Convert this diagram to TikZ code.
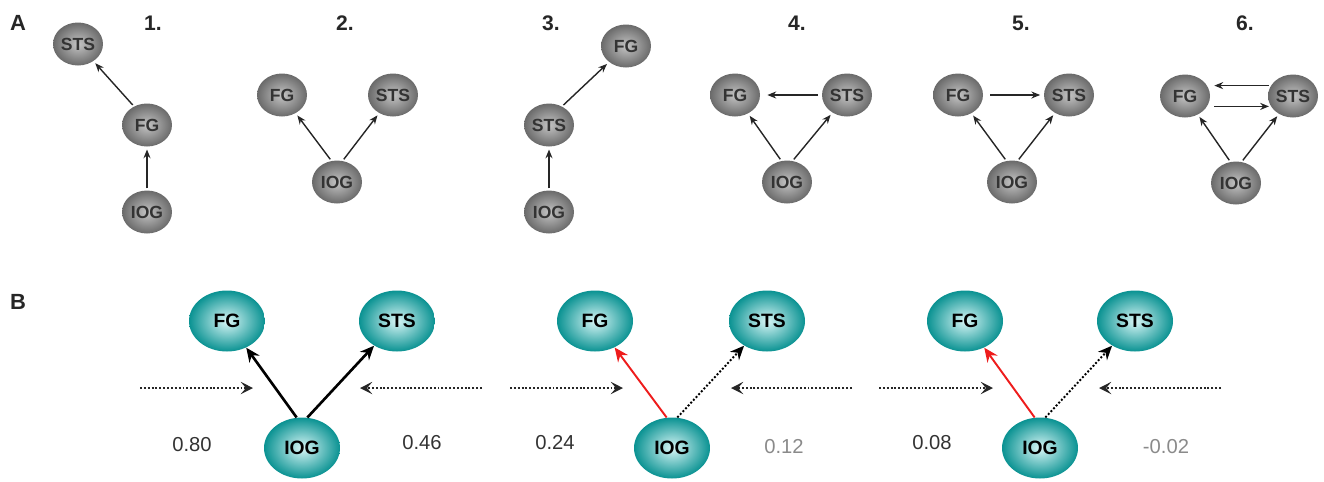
\documentclass[tikz,border=0pt]{standalone}
\usepackage{fontspec}
\setmainfont{Liberation Sans}
\usepackage{tikz}
\usetikzlibrary{positioning,arrows.meta,shapes.geometric}
\definecolor{nodegray}{HTML}{6A6A6A}
\definecolor{nodegraylight}{HTML}{C4C4C4}
\definecolor{nodeteal}{HTML}{0A9292}
\definecolor{nodetealight}{HTML}{D8F6F6}
\definecolor{valdark}{HTML}{333333}
\definecolor{valfaint}{HTML}{8A8A8A}
\definecolor{linkred}{HTML}{EE1C1C}
\tikzset{
    panellabel/.style={font=\fontsize{12.5}{14}\selectfont\bfseries,text=black!85},
    steplabel/.style={font=\fontsize{12}{14}\selectfont\bfseries,text=black!85},
    graynode/.style={ellipse,inner sep=0pt,minimum width=1.0cm,minimum height=0.86cm,
        inner color=nodegraylight,outer color=nodegray,text=black!80,
        font=\fontsize{10}{11}\selectfont\bfseries},
    tealnode/.style={ellipse,inner sep=0pt,minimum width=1.52cm,minimum height=1.22cm,
        inner color=nodetealight,outer color=nodeteal,text=black,
        font=\fontsize{11}{12}\selectfont\bfseries},
    corrval/.style={font=\fontsize{11.5}{13}\selectfont,text=valdark},
    corrfaint/.style={font=\fontsize{11.5}{13}\selectfont,text=valfaint},
    linkA/.style={-{Stealth[length=5pt,width=4pt]},line width=0.8pt,black!85,shorten >=1.5pt,shorten <=1pt},
    linkB/.style={-{Stealth[length=8pt,width=7pt]},line width=1.5pt,black},
    linkBred/.style={-{Stealth[length=8pt,width=7pt]},line width=1.1pt,linkred},
    linkBdot/.style={-{Stealth[length=8pt,width=7pt]},line width=1.1pt,black,dash pattern=on 1.1pt off 1.1pt},
    inflow/.style={-{Stealth[length=7pt,width=7pt,inset=3pt]},line width=1.1pt,black!85,dash pattern=on 1.1pt off 1.1pt}
}
\begin{document}
\begin{tikzpicture}[x=0.02cm,y=-0.02cm]
\useasboundingbox (0,0) rectangle (1324,481);
% panel A
\node[panellabel] (labA) at (18,23) {A};
\node[steplabel] (st1) at (153,23) {1.};
\node[steplabel] (st2) at (345,23) {2.};
\node[steplabel] (st3) at (551,23) {3.};
\node[steplabel] (st4) at (797,23) {4.};
\node[steplabel] (st5) at (1021,23) {5.};
\node[steplabel] (st6) at (1245,23) {6.};
% 1.
\node[graynode] (stsA1) at (78,44) {STS};
\node[graynode] (fgA1) at (147,125) {FG};
\node[graynode] (iogA1) at (147,212) {IOG};
\draw[linkA] (iogA1) -- (fgA1);
\draw[linkA] (fgA1.125) -- (stsA1);
% 2.
\node[graynode] (fgA2) at (282,95) {FG};
\node[graynode] (stsA2) at (393,95) {STS};
\node[graynode] (iogA2) at (337,182) {IOG};
\draw[linkA] (iogA2.105) -- (fgA2);
\draw[linkA] (iogA2.75) -- (stsA2);
% 3.
\node[graynode] (fgA3) at (626,46) {FG};
\node[graynode] (stsA3) at (549,125) {STS};
\node[graynode] (iogA3) at (549,212) {IOG};
\draw[linkA] (iogA3) -- (stsA3);
\draw[linkA] (stsA3.55) -- (fgA3);
% 4.
\node[graynode] (fgA4) at (735,95) {FG};
\node[graynode] (stsA4) at (847,95) {STS};
\node[graynode] (iogA4) at (787,182) {IOG};
\draw[linkA] (iogA4.105) -- (fgA4);
\draw[linkA] (iogA4.75) -- (stsA4);
\draw[linkA,line width=0.9pt,shorten >=4pt,shorten <=2pt] (stsA4) -- (fgA4);
% 5.
\node[graynode] (fgA5) at (958,95) {FG};
\node[graynode] (stsA5) at (1069,95) {STS};
\node[graynode] (iogA5) at (1012,182) {IOG};
\draw[linkA] (iogA5.105) -- (fgA5);
\draw[linkA] (iogA5.75) -- (stsA5);
\draw[linkA,line width=0.9pt,shorten >=2pt,shorten <=4pt] (fgA5) -- (stsA5);
% 6.
\node[graynode] (fgA6) at (1185,96) {FG};
\node[graynode] (stsA6) at (1293,96) {STS};
\node[graynode] (iogA6) at (1236,183) {IOG};
\draw[linkA] (iogA6.105) -- (fgA6);
\draw[linkA] (iogA6.75) -- (stsA6);
\draw[linkA,line width=1pt,shorten >=4pt,shorten <=1pt] (stsA6.155) -- (fgA6.25);
\draw[linkA,line width=1pt,shorten >=1pt,shorten <=4pt] (fgA6.-25) -- (stsA6.205);
% panel B
\node[panellabel] (labB) at (18,302) {B};
% first
\node[tealnode] (fgB1) at (227,321) {FG};
\node[tealnode] (stsB1) at (397,321) {STS};
\node[tealnode] (iogB1) at (302,448) {IOG};
\draw[linkB] (iogB1.100) -- (fgB1);
\draw[linkB] (iogB1.80) -- (stsB1);
\coordinate (inL1) at (140,388);
\coordinate (outL1) at (253,388);
\coordinate (inR1) at (482,388);
\coordinate (outR1) at (360,388);
\draw[inflow] (inL1) -- (outL1);
\draw[inflow] (inR1) -- (outR1);
\node[corrval] (valL1) at (192,445) {0.80};
\node[corrval] (valR1) at (422,443) {0.46};
% second
\node[tealnode] (fgB2) at (595,321) {FG};
\node[tealnode] (stsB2) at (767,321) {STS};
\node[tealnode] (iogB2) at (672,448) {IOG};
\draw[linkBred] (iogB2.100) -- (fgB2);
\draw[linkBdot] (iogB2.80) -- (stsB2);
\coordinate (inL2) at (510,388);
\coordinate (outL2) at (623,388);
\coordinate (inR2) at (852,388);
\coordinate (outR2) at (731,388);
\draw[inflow] (inL2) -- (outL2);
\draw[inflow] (inR2) -- (outR2);
\node[corrval] (valL2) at (555,443) {0.24};
\node[corrfaint] (valR2) at (784,447) {0.12};
% third
\node[tealnode] (fgB3) at (965,321) {FG};
\node[tealnode] (stsB3) at (1135,321) {STS};
\node[tealnode] (iogB3) at (1040,448) {IOG};
\draw[linkBred] (iogB3.100) -- (fgB3);
\draw[linkBdot] (iogB3.80) -- (stsB3);
\coordinate (inL3) at (879,388);
\coordinate (outL3) at (993,388);
\coordinate (inR3) at (1221,388);
\coordinate (outR3) at (1099,388);
\draw[inflow] (inL3) -- (outL3);
\draw[inflow] (inR3) -- (outR3);
\node[corrval] (valL3) at (932,443) {0.08};
\node[corrfaint] (valR3) at (1166,447) {-0.02};
\end{tikzpicture}
\end{document}
